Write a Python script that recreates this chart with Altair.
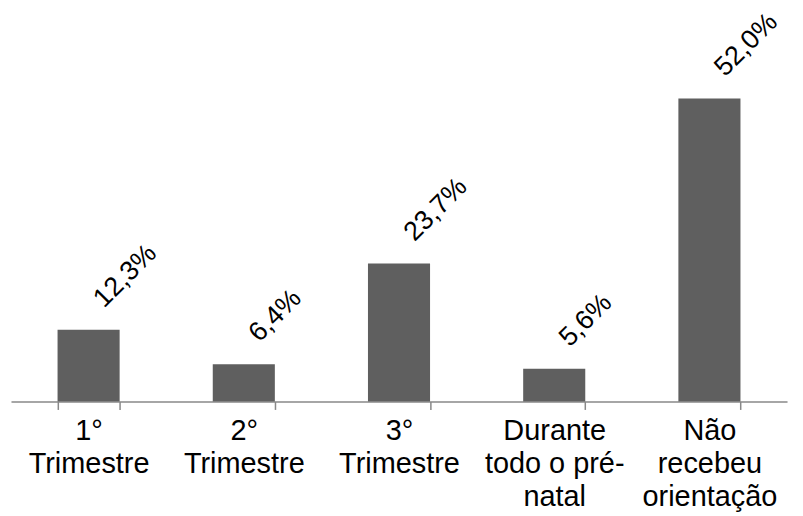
import altair as alt
import pandas as pd

categories = ["1°\nTrimestre", "2°\nTrimestre", "3°\nTrimestre",
              "Durante\ntodo o pré-\nnatal", "Não\nrecebeu\norientação"]
values = [12.3, 6.4, 23.7, 5.6, 52.0]
labels = ["12,3%", "6,4%", "23,7%", "5,6%", "52,0%"]

df = pd.DataFrame({"cat": categories, "val": values, "lab": labels})

x = alt.X("cat:N", sort=categories, title=None,
          scale=alt.Scale(paddingInner=0.6, paddingOuter=0.3),
          axis=alt.Axis(labelExpr="isValid(datum.value) ? split(datum.value, '\\n') : ''",
                        labelAngle=0,
                        labelFontSize=29, labelFont="Liberation Sans",
                        labelColor="#000000", labelLineHeight=33,
                        labelPadding=7, labelLimit=0,
                        tickBand="extent", tickSize=8, tickColor="#888888",
                        domainColor="#888888", tickWidth=1.5, domainWidth=1.5,
                        grid=False))
y = alt.Y("val:Q", scale=alt.Scale(domain=[0, 65.68], nice=False),
          axis=None)

bars = alt.Chart(df).mark_bar(color="#5f5f5f").encode(x=x, y=y)
text = alt.Chart(df).mark_text(angle=315, align="left", baseline="alphabetic",
                               dx=26, dy=-4, fontSize=27,
                               font="Liberation Sans", color="#000000").encode(
    x=alt.X("cat:N", sort=categories), y="val:Q", text="lab:N")

chart = (bars + text).properties(
    width=779, height=384,
    autosize=alt.AutoSizeParams(type="none"),
    padding={"left": 3, "top": 10, "right": 8, "bottom": 112}
).configure_view(stroke=None)

chart.save("out.html", embed_options={"renderer": "svg", "actions": False})
